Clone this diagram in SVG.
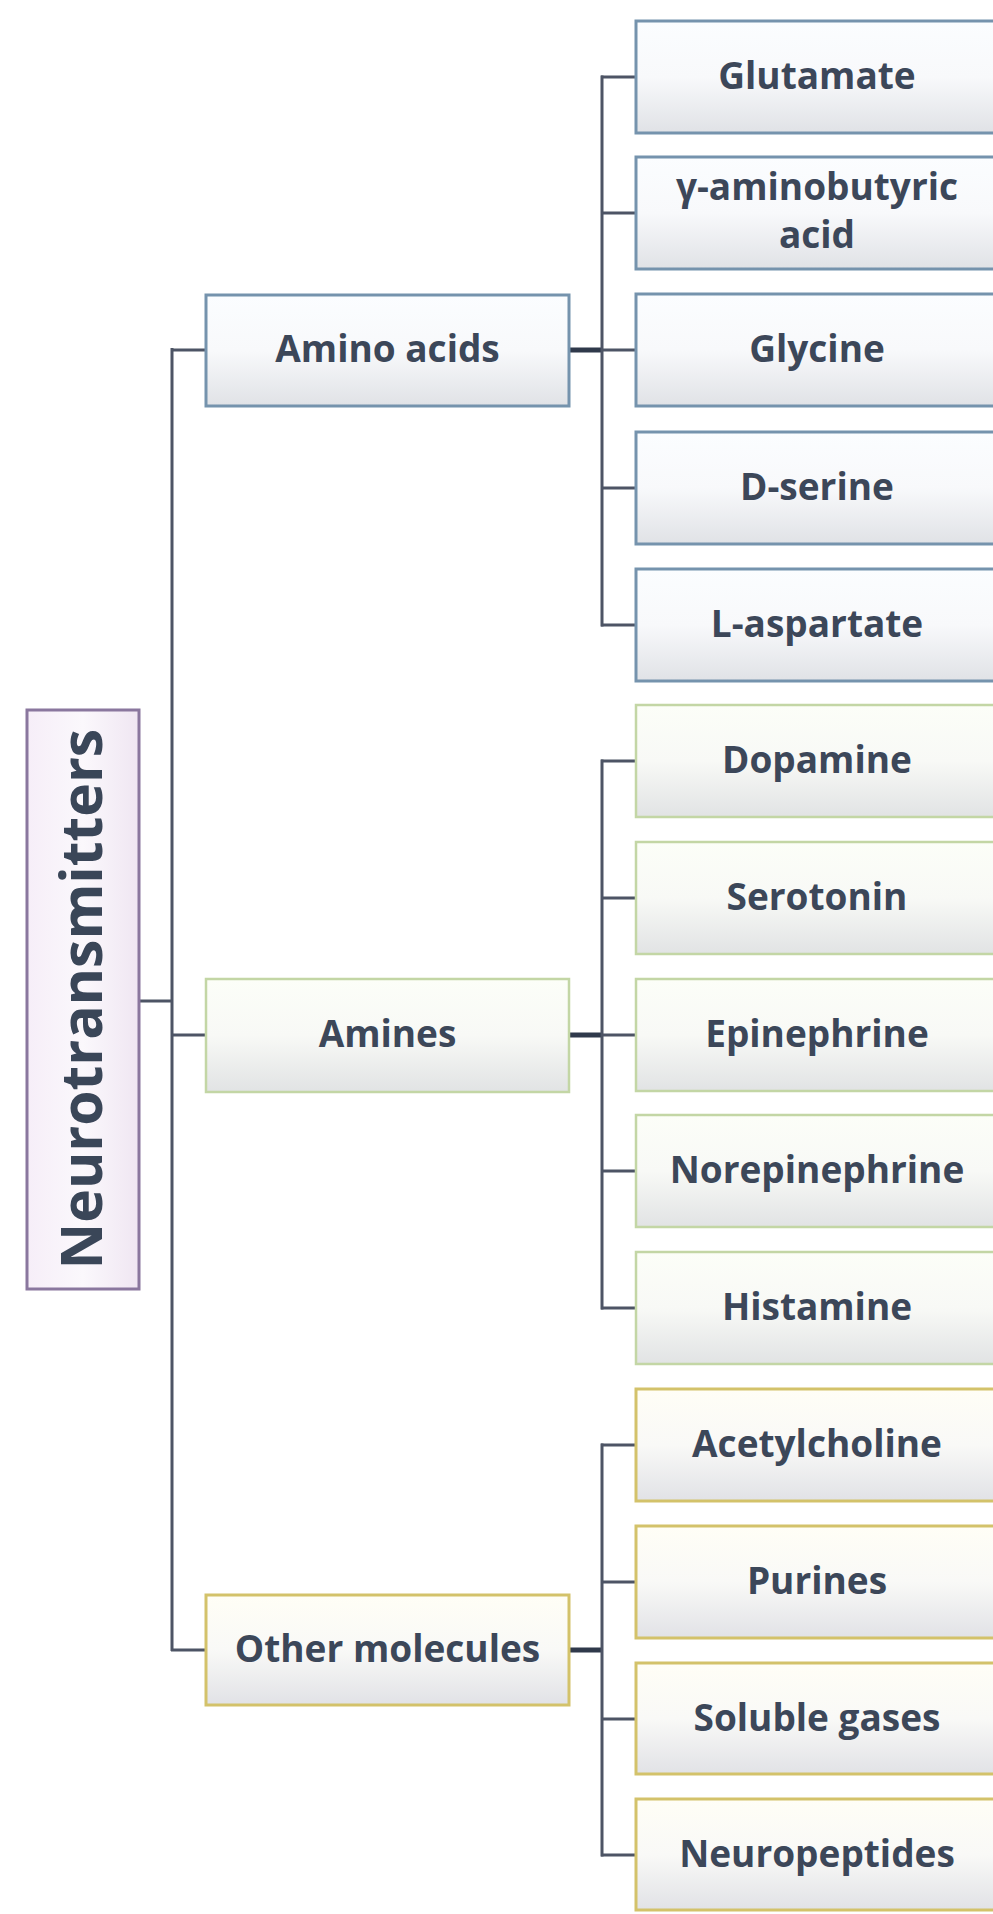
<svg xmlns="http://www.w3.org/2000/svg" width="993" height="1914" viewBox="0 0 993 1914">
<defs>
<linearGradient id="gBlue" x1="0" y1="0" x2="0" y2="1">
<stop offset="0" stop-color="#fbfdff"/><stop offset="0.5" stop-color="#f8f9fb"/><stop offset="1" stop-color="#e0e2e6"/>
</linearGradient>
<linearGradient id="gGreen" x1="0" y1="0" x2="0" y2="1">
<stop offset="0" stop-color="#fcfef8"/><stop offset="0.5" stop-color="#f8f9f6"/><stop offset="1" stop-color="#e1e3e4"/>
</linearGradient>
<linearGradient id="gYellow" x1="0" y1="0" x2="0" y2="1">
<stop offset="0" stop-color="#fffef6"/><stop offset="0.5" stop-color="#f9f9f7"/><stop offset="1" stop-color="#e1e2e6"/>
</linearGradient>
<linearGradient id="gRoot" x1="0" y1="0" x2="1" y2="0">
<stop offset="0" stop-color="#f6eef8"/><stop offset="0.5" stop-color="#fbf8fc"/><stop offset="1" stop-color="#efe6f2"/>
</linearGradient>
<style>
.lbl{font-family:"Open Sans","Liberation Sans",sans-serif;font-weight:700;font-size:37px;fill:#3c4759;text-anchor:middle}
.root{font-family:"Open Sans","Liberation Sans",sans-serif;font-weight:700;font-size:57px;fill:#3a4658;text-anchor:middle}
.blue{fill:url(#gBlue);stroke:#7593ad;stroke-width:3}
.green{fill:url(#gGreen);stroke:#c3d6a5;stroke-width:2.5}
.yellow{fill:url(#gYellow);stroke:#d3c26a;stroke-width:3}
.rootbox{fill:url(#gRoot);stroke:#8a779e;stroke-width:3}
.ln{stroke:#4d5465;stroke-width:3;fill:none}
.thick{stroke:#2f394b;stroke-width:5;fill:none}
</style>
</defs>
<rect width="993" height="1914" fill="#ffffff"/>

<g id="connectors">
<line class="ln" x1="139" y1="1001" x2="172" y2="1001"/>
<line class="ln" x1="172" y1="348" x2="172" y2="1651"/>
<line class="ln" x1="171" y1="350" x2="206" y2="350"/>
<line class="ln" x1="171" y1="1035" x2="206" y2="1035"/>
<line class="ln" x1="171" y1="1650" x2="206" y2="1650"/>
<line class="thick" x1="569" y1="350" x2="602" y2="350"/>
<line class="thick" x1="569" y1="1035" x2="602" y2="1035"/>
<line class="thick" x1="569" y1="1650" x2="602" y2="1650"/>
<line class="ln" x1="602" y1="75.5" x2="602" y2="626.5"/>
<line class="ln" x1="602" y1="759.5" x2="602" y2="1309.5"/>
<line class="ln" x1="602" y1="1443.5" x2="602" y2="1856.5"/>
<path class="ln" d="M601 77H636M601 213H636M601 350H636M601 488H636M601 625H636"/>
<path class="ln" d="M601 761H636M601 898H636M601 1035H636M601 1171H636M601 1308H636"/>
<path class="ln" d="M601 1445H636M601 1582H636M601 1719H636M601 1855H636"/>
</g>

<g id="root">
<rect class="rootbox" x="27" y="710" width="112" height="579"/>
<text class="root" transform="translate(102,999) rotate(-90)">Neurotransmitters</text>
</g>

<g id="amino-acids">
<rect class="blue" x="206" y="295" width="363" height="111"/>
<text class="lbl" x="387.5" y="362">Amino acids</text>
</g>
<g id="amines">
<rect class="green" x="206" y="979" width="363" height="113"/>
<text class="lbl" x="387.5" y="1047">Amines</text>
</g>
<g id="other-molecules">
<rect class="yellow" x="206" y="1595" width="363" height="110"/>
<text class="lbl" x="387.5" y="1662">Other molecules</text>
</g>

<g id="glutamate">
<rect class="blue" x="636" y="21" width="363" height="112"/>
<text class="lbl" x="817" y="89">Glutamate</text>
</g>
<g id="gaba">
<rect class="blue" x="636" y="157" width="363" height="112"/>
<text class="lbl" x="817" y="200">γ-aminobutyric</text>
<text class="lbl" x="817" y="248">acid</text>
</g>
<g id="glycine">
<rect class="blue" x="636" y="294" width="363" height="112"/>
<text class="lbl" x="817" y="362">Glycine</text>
</g>
<g id="d-serine">
<rect class="blue" x="636" y="432" width="363" height="112"/>
<text class="lbl" x="817" y="500">D-serine</text>
</g>
<g id="l-aspartate">
<rect class="blue" x="636" y="569" width="363" height="112"/>
<text class="lbl" x="817" y="637">L-aspartate</text>
</g>

<g id="dopamine">
<rect class="green" x="636" y="705" width="363" height="112"/>
<text class="lbl" x="817" y="773">Dopamine</text>
</g>
<g id="serotonin">
<rect class="green" x="636" y="842" width="363" height="112"/>
<text class="lbl" x="817" y="910">Serotonin</text>
</g>
<g id="epinephrine">
<rect class="green" x="636" y="979" width="363" height="112"/>
<text class="lbl" x="817" y="1047">Epinephrine</text>
</g>
<g id="norepinephrine">
<rect class="green" x="636" y="1115" width="363" height="112"/>
<text class="lbl" x="817" y="1183">Norepinephrine</text>
</g>
<g id="histamine">
<rect class="green" x="636" y="1252" width="363" height="112"/>
<text class="lbl" x="817" y="1320">Histamine</text>
</g>

<g id="acetylcholine">
<rect class="yellow" x="636" y="1389" width="363" height="112"/>
<text class="lbl" x="817" y="1457">Acetylcholine</text>
</g>
<g id="purines">
<rect class="yellow" x="636" y="1526" width="363" height="112"/>
<text class="lbl" x="817" y="1594">Purines</text>
</g>
<g id="soluble-gases">
<rect class="yellow" x="636" y="1663" width="363" height="111"/>
<text class="lbl" x="817" y="1731">Soluble gases</text>
</g>
<g id="neuropeptides">
<rect class="yellow" x="636" y="1799" width="363" height="111"/>
<text class="lbl" x="817" y="1867">Neuropeptides</text>
</g>
</svg>
